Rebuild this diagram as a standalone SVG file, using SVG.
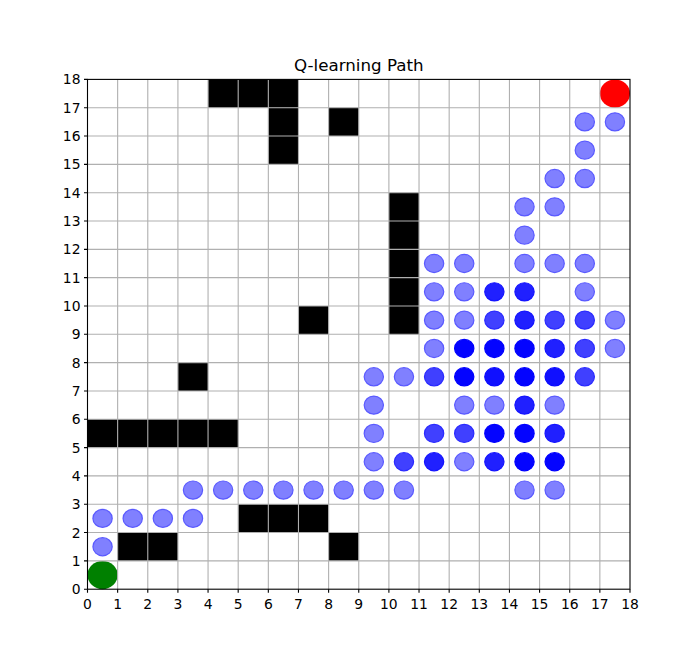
<svg xmlns="http://www.w3.org/2000/svg" xmlns:xlink="http://www.w3.org/1999/xlink" width="700" height="662" viewBox="0 0 700 662">
<style>
.obs{fill:#000000}
.g{stroke:#b0b0b0;stroke-width:1.1;vector-effect:non-scaling-stroke;fill:none}
.p{stroke-width:1.2;vector-effect:non-scaling-stroke}
.n1{fill:#8080ff;stroke:#5a5aff}
.n2{fill:#4040ff;stroke:#2a2aff}
.n3{fill:#2020ff;stroke:#1414ff}
.n4{fill:#1010ff;stroke:#0a0aff}
.n5{fill:#0404ff;stroke:#0000ff}
.tk{stroke:#000;stroke-width:1.1}
.lb{font-family:"DejaVu Sans",sans-serif;font-size:13.9px;fill:#000}
.tt{font-family:"DejaVu Sans",sans-serif;font-size:16.7px;fill:#000}
</style>
<rect x="0" y="0" width="700" height="662" fill="#ffffff"/>
<g id="plot" transform="matrix(30.139 0 0 -28.322 87.5 589.2)">
<g id="obstacles">
<rect class="obs" x="4" y="17" width="3" height="1"/>
<rect class="obs" x="6" y="15" width="1" height="2"/>
<rect class="obs" x="8" y="16" width="1" height="1"/>
<rect class="obs" x="10" y="9" width="1" height="5"/>
<rect class="obs" x="7" y="9" width="1" height="1"/>
<rect class="obs" x="3" y="7" width="1" height="1"/>
<rect class="obs" x="0" y="5" width="5" height="1"/>
<rect class="obs" x="5" y="2" width="3" height="1"/>
<rect class="obs" x="1" y="1" width="2" height="1"/>
<rect class="obs" x="8" y="1" width="1" height="1"/>
</g>
<g id="path">
<circle class="p n1" cx="16.5" cy="16.5" r="0.32"/>
<circle class="p n1" cx="17.5" cy="16.5" r="0.32"/>
<circle class="p n1" cx="16.5" cy="15.5" r="0.32"/>
<circle class="p n1" cx="15.5" cy="14.5" r="0.32"/>
<circle class="p n1" cx="16.5" cy="14.5" r="0.32"/>
<circle class="p n1" cx="14.5" cy="13.5" r="0.32"/>
<circle class="p n1" cx="15.5" cy="13.5" r="0.32"/>
<circle class="p n1" cx="14.5" cy="12.5" r="0.32"/>
<circle class="p n1" cx="11.5" cy="11.5" r="0.32"/>
<circle class="p n1" cx="12.5" cy="11.5" r="0.32"/>
<circle class="p n1" cx="14.5" cy="11.5" r="0.32"/>
<circle class="p n1" cx="15.5" cy="11.5" r="0.32"/>
<circle class="p n1" cx="16.5" cy="11.5" r="0.32"/>
<circle class="p n1" cx="11.5" cy="10.5" r="0.32"/>
<circle class="p n1" cx="12.5" cy="10.5" r="0.32"/>
<circle class="p n3" cx="13.5" cy="10.5" r="0.32"/>
<circle class="p n3" cx="14.5" cy="10.5" r="0.32"/>
<circle class="p n1" cx="16.5" cy="10.5" r="0.32"/>
<circle class="p n1" cx="11.5" cy="9.5" r="0.32"/>
<circle class="p n1" cx="12.5" cy="9.5" r="0.32"/>
<circle class="p n2" cx="13.5" cy="9.5" r="0.32"/>
<circle class="p n3" cx="14.5" cy="9.5" r="0.32"/>
<circle class="p n2" cx="15.5" cy="9.5" r="0.32"/>
<circle class="p n2" cx="16.5" cy="9.5" r="0.32"/>
<circle class="p n1" cx="17.5" cy="9.5" r="0.32"/>
<circle class="p n1" cx="11.5" cy="8.5" r="0.32"/>
<circle class="p n5" cx="12.5" cy="8.5" r="0.32"/>
<circle class="p n5" cx="13.5" cy="8.5" r="0.32"/>
<circle class="p n5" cx="14.5" cy="8.5" r="0.32"/>
<circle class="p n3" cx="15.5" cy="8.5" r="0.32"/>
<circle class="p n2" cx="16.5" cy="8.5" r="0.32"/>
<circle class="p n1" cx="17.5" cy="8.5" r="0.32"/>
<circle class="p n1" cx="9.5" cy="7.5" r="0.32"/>
<circle class="p n1" cx="10.5" cy="7.5" r="0.32"/>
<circle class="p n2" cx="11.5" cy="7.5" r="0.32"/>
<circle class="p n5" cx="12.5" cy="7.5" r="0.32"/>
<circle class="p n4" cx="13.5" cy="7.5" r="0.32"/>
<circle class="p n5" cx="14.5" cy="7.5" r="0.32"/>
<circle class="p n4" cx="15.5" cy="7.5" r="0.32"/>
<circle class="p n2" cx="16.5" cy="7.5" r="0.32"/>
<circle class="p n1" cx="9.5" cy="6.5" r="0.32"/>
<circle class="p n1" cx="12.5" cy="6.5" r="0.32"/>
<circle class="p n1" cx="13.5" cy="6.5" r="0.32"/>
<circle class="p n3" cx="14.5" cy="6.5" r="0.32"/>
<circle class="p n1" cx="15.5" cy="6.5" r="0.32"/>
<circle class="p n1" cx="9.5" cy="5.5" r="0.32"/>
<circle class="p n2" cx="11.5" cy="5.5" r="0.32"/>
<circle class="p n2" cx="12.5" cy="5.5" r="0.32"/>
<circle class="p n5" cx="13.5" cy="5.5" r="0.32"/>
<circle class="p n5" cx="14.5" cy="5.5" r="0.32"/>
<circle class="p n3" cx="15.5" cy="5.5" r="0.32"/>
<circle class="p n1" cx="9.5" cy="4.5" r="0.32"/>
<circle class="p n2" cx="10.5" cy="4.5" r="0.32"/>
<circle class="p n3" cx="11.5" cy="4.5" r="0.32"/>
<circle class="p n1" cx="12.5" cy="4.5" r="0.32"/>
<circle class="p n3" cx="13.5" cy="4.5" r="0.32"/>
<circle class="p n5" cx="14.5" cy="4.5" r="0.32"/>
<circle class="p n5" cx="15.5" cy="4.5" r="0.32"/>
<circle class="p n1" cx="3.5" cy="3.5" r="0.32"/>
<circle class="p n1" cx="4.5" cy="3.5" r="0.32"/>
<circle class="p n1" cx="5.5" cy="3.5" r="0.32"/>
<circle class="p n1" cx="6.5" cy="3.5" r="0.32"/>
<circle class="p n1" cx="7.5" cy="3.5" r="0.32"/>
<circle class="p n1" cx="8.5" cy="3.5" r="0.32"/>
<circle class="p n1" cx="9.5" cy="3.5" r="0.32"/>
<circle class="p n1" cx="10.5" cy="3.5" r="0.32"/>
<circle class="p n1" cx="14.5" cy="3.5" r="0.32"/>
<circle class="p n1" cx="15.5" cy="3.5" r="0.32"/>
<circle class="p n1" cx="0.5" cy="2.5" r="0.32"/>
<circle class="p n1" cx="1.5" cy="2.5" r="0.32"/>
<circle class="p n1" cx="2.5" cy="2.5" r="0.32"/>
<circle class="p n1" cx="3.5" cy="2.5" r="0.32"/>
<circle class="p n1" cx="0.5" cy="1.5" r="0.32"/>
</g>
<g id="start"><circle cx="0.5" cy="0.5" r="0.5" fill="#008000"/></g>
<g id="goal"><circle cx="17.5" cy="17.5" r="0.5" fill="#ff0000"/></g>
<g id="grid">
<path class="g" d="M1 0V18M2 0V18M3 0V18M4 0V18M5 0V18M6 0V18M7 0V18M8 0V18M9 0V18M10 0V18M11 0V18M12 0V18M13 0V18M14 0V18M15 0V18M16 0V18M17 0V18"/>
<path class="g" d="M0 1H18M0 2H18M0 3H18M0 4H18M0 5H18M0 6H18M0 7H18M0 8H18M0 9H18M0 10H18M0 11H18M0 12H18M0 13H18M0 14H18M0 15H18M0 16H18M0 17H18"/>
</g>
</g>
<g id="axes">
<rect x="87.5" y="79.4" width="542.5" height="509.8" fill="none" stroke="#000" stroke-width="1.1"/>
<path class="tk" d="M87.5 589.2v3.5M117.64 589.2v3.5M147.78 589.2v3.5M177.92 589.2v3.5M208.06 589.2v3.5M238.19 589.2v3.5M268.33 589.2v3.5M298.47 589.2v3.5M328.61 589.2v3.5M358.75 589.2v3.5M388.89 589.2v3.5M419.03 589.2v3.5M449.17 589.2v3.5M479.31 589.2v3.5M509.45 589.2v3.5M539.58 589.2v3.5M569.72 589.2v3.5M599.86 589.2v3.5M630 589.2v3.5"/>
<path class="tk" d="M87.5 589.2h-3.5M87.5 560.88h-3.5M87.5 532.56h-3.5M87.5 504.23h-3.5M87.5 475.91h-3.5M87.5 447.59h-3.5M87.5 419.27h-3.5M87.5 390.95h-3.5M87.5 362.62h-3.5M87.5 334.3h-3.5M87.5 305.98h-3.5M87.5 277.66h-3.5M87.5 249.34h-3.5M87.5 221.01h-3.5M87.5 192.69h-3.5M87.5 164.37h-3.5M87.5 136.05h-3.5M87.5 107.73h-3.5M87.5 79.4h-3.5"/>
<g class="lb" text-anchor="middle">
<text x="87.5" y="609">0</text><text x="117.64" y="609">1</text><text x="147.78" y="609">2</text><text x="177.92" y="609">3</text><text x="208.06" y="609">4</text><text x="238.19" y="609">5</text><text x="268.33" y="609">6</text><text x="298.47" y="609">7</text><text x="328.61" y="609">8</text><text x="358.75" y="609">9</text><text x="388.89" y="609">10</text><text x="419.03" y="609">11</text><text x="449.17" y="609">12</text><text x="479.31" y="609">13</text><text x="509.45" y="609">14</text><text x="539.58" y="609">15</text><text x="569.72" y="609">16</text><text x="599.86" y="609">17</text><text x="630" y="609">18</text>
</g>
<g class="lb" text-anchor="end">
<text x="80.5" y="594.2">0</text><text x="80.5" y="565.88">1</text><text x="80.5" y="537.56">2</text><text x="80.5" y="509.23">3</text><text x="80.5" y="480.91">4</text><text x="80.5" y="452.59">5</text><text x="80.5" y="424.27">6</text><text x="80.5" y="395.95">7</text><text x="80.5" y="367.62">8</text><text x="80.5" y="339.3">9</text><text x="80.5" y="310.98">10</text><text x="80.5" y="282.66">11</text><text x="80.5" y="254.34">12</text><text x="80.5" y="226.01">13</text><text x="80.5" y="197.69">14</text><text x="80.5" y="169.37">15</text><text x="80.5" y="141.05">16</text><text x="80.5" y="112.73">17</text><text x="80.5" y="84.4">18</text>
</g>
<text class="tt" x="358.75" y="71" text-anchor="middle">Q-learning Path</text>
</g>
</svg>
